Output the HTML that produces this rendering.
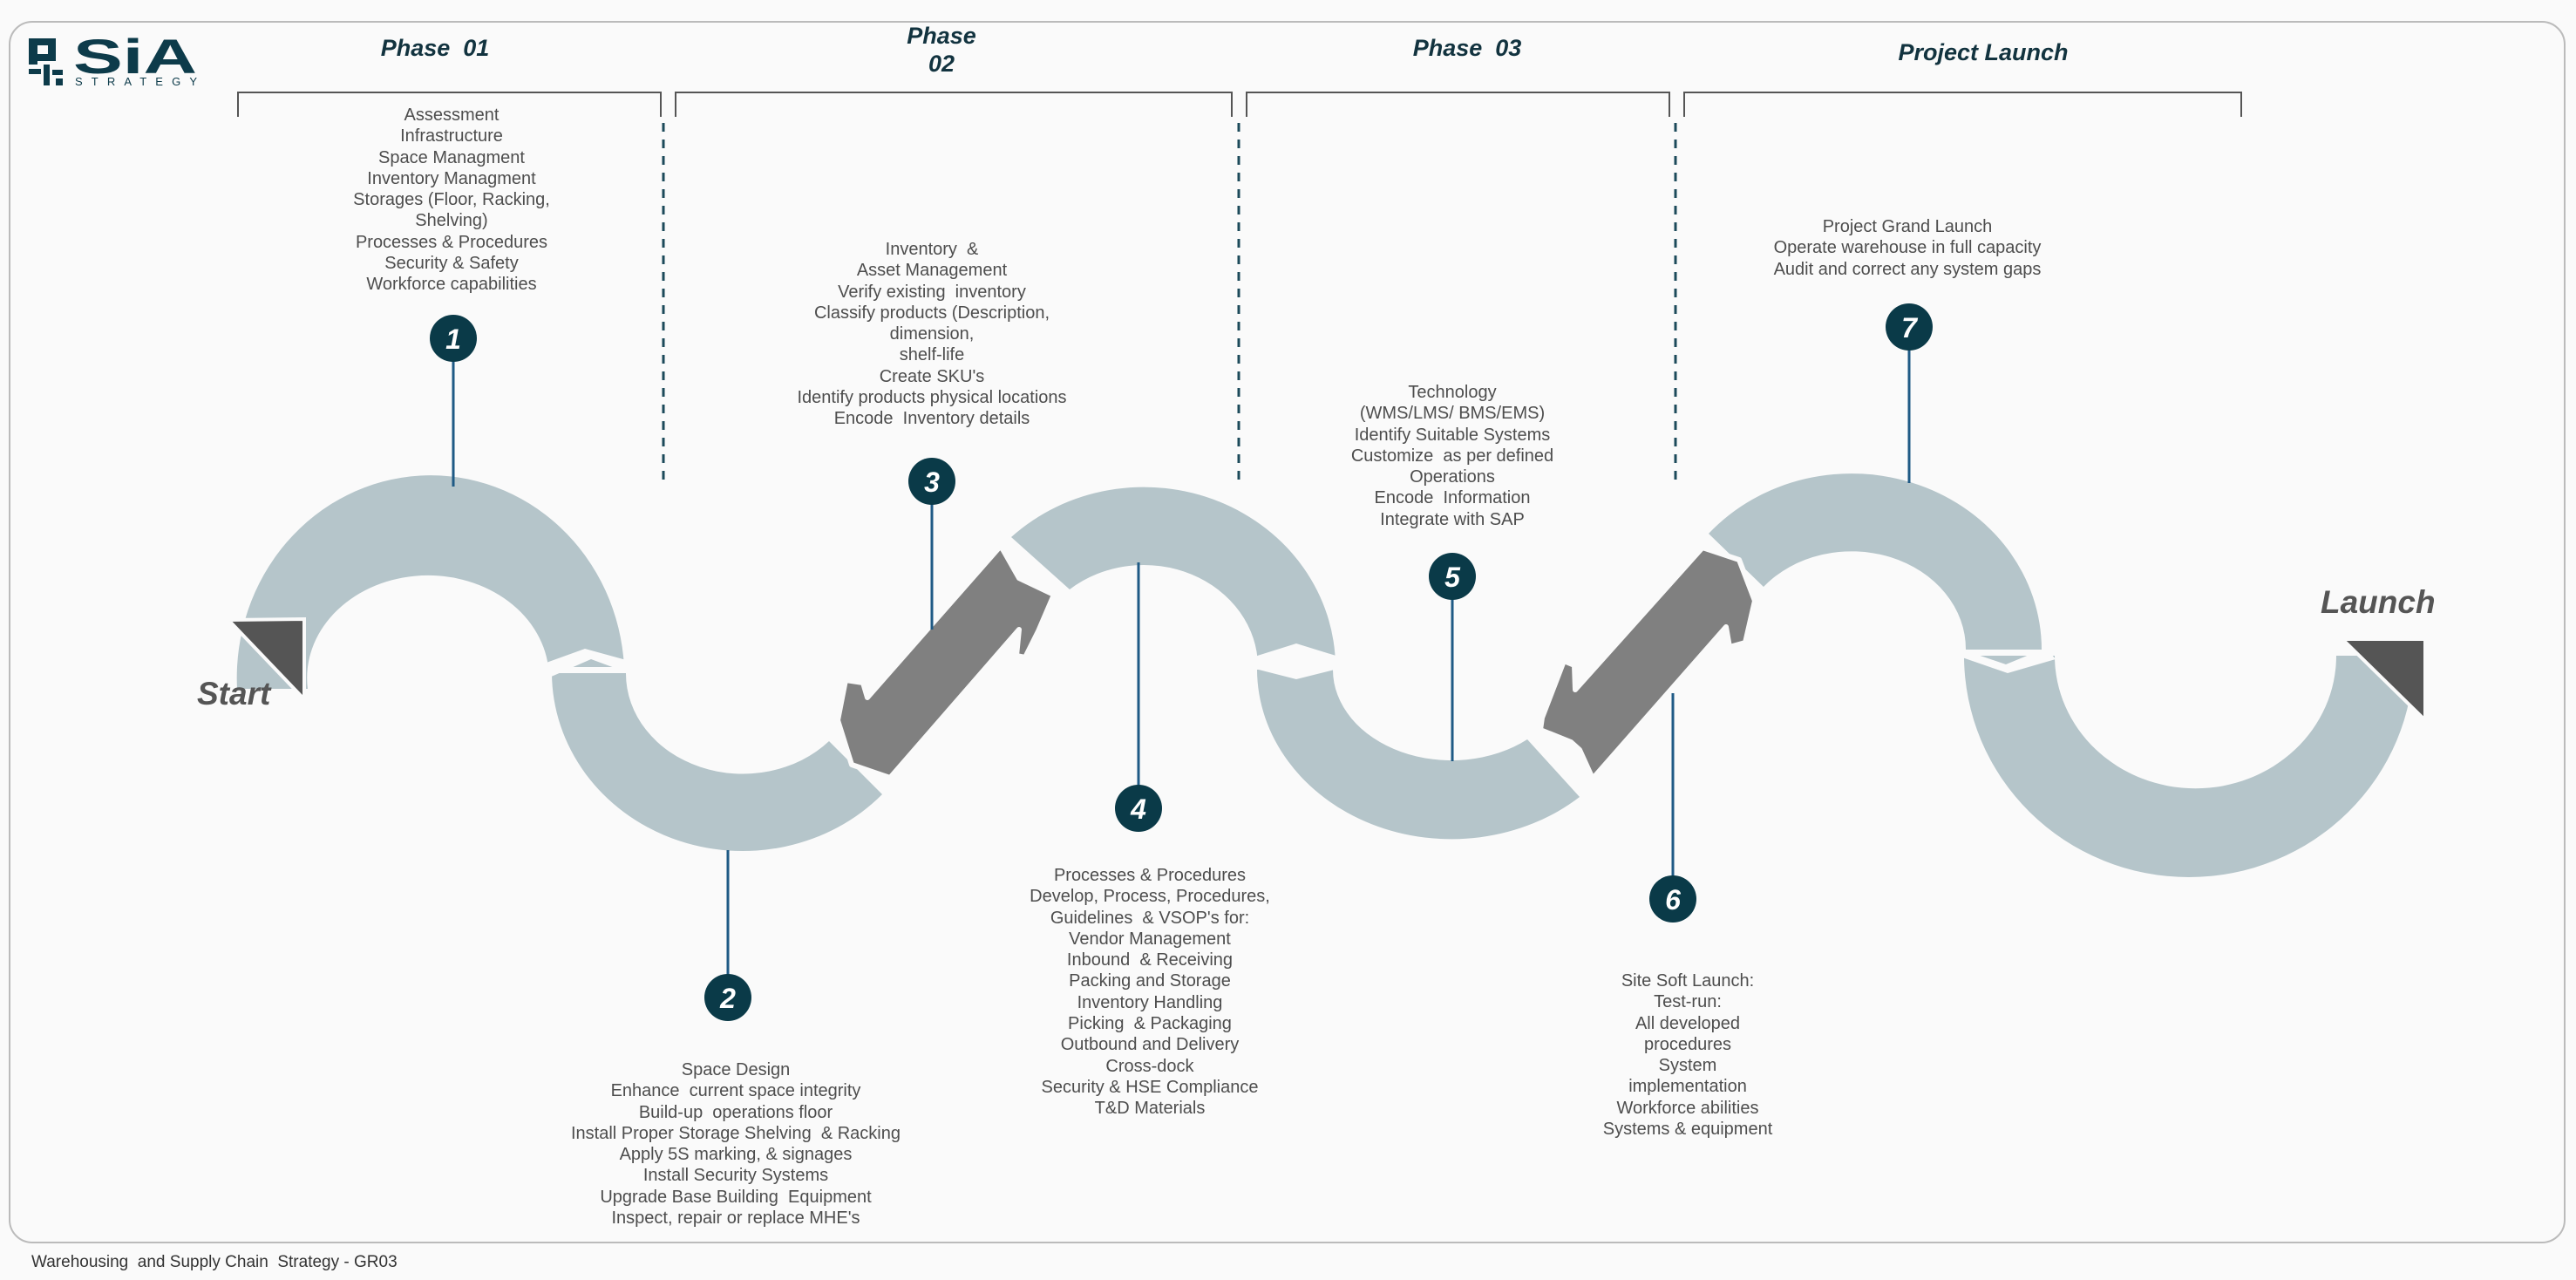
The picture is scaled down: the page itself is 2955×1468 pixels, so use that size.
<!DOCTYPE html>
<html><head><meta charset="utf-8"><style>
html,body{margin:0;padding:0;background:#fafafa;}
body{width:2955px;height:1468px;position:relative;overflow:hidden;font-family:"Liberation Sans",Arial,sans-serif;}
.t{position:absolute;width:640px;text-align:center;font-size:20px;line-height:24.3px;color:#4d4d4d;white-space:nowrap;}
.ph{position:absolute;width:400px;text-align:center;font-size:27px;font-weight:bold;font-style:italic;color:#12333f;line-height:32px;}
.lbl{position:absolute;font-size:37px;font-weight:bold;font-style:italic;color:#555;}
</style></head><body>
<svg width="2955" height="1468" style="position:absolute;left:0;top:0">
<rect x="11" y="25" width="2931" height="1400" rx="26" fill="#fafafa" stroke="#bbb" stroke-width="2"/>
<!-- logo -->
<g fill="#0d3b4a">
<rect x="33" y="44" width="10" height="30"/><rect x="33" y="44" width="30" height="8"/><rect x="55" y="44" width="9" height="26"/><rect x="43" y="62" width="21" height="8"/>
<rect x="33" y="79" width="14" height="6"/><rect x="50" y="74" width="7" height="24"/><rect x="60" y="80" width="12" height="6"/><rect x="64" y="90" width="8" height="8"/>
</g>
<text x="84" y="84" font-family="Liberation Sans" font-weight="bold" font-size="56" fill="#0d3b4a" textLength="142" lengthAdjust="spacingAndGlyphs">SiA</text>
<text x="86" y="98" font-family="Liberation Sans" font-size="13" fill="#0d3b4a" textLength="140" lengthAdjust="spacing">STRATEGY</text>
<!-- brackets -->
<g fill="none" stroke="#555" stroke-width="2">
<polyline points="273,134 273,106 758,106 758,134"/>
<polyline points="775,134 775,106 1413,106 1413,134"/>
<polyline points="1430,134 1430,106 1915,106 1915,134"/>
<polyline points="1932,134 1932,106 2571,106 2571,134"/>
</g>
<g stroke="#1c4a5a" stroke-width="3" stroke-dasharray="10,9">
<line x1="761" y1="141" x2="761" y2="556"/>
<line x1="1421" y1="141" x2="1421" y2="556"/>
<line x1="1922" y1="141" x2="1922" y2="556"/>
</g>
<!-- bands -->
<g fill="#b5c5ca">
<path d="M272,790 A222 232 0 0 1 716,765 L629,765 A138 117 0 0 0 353,790 Z"/>
<path d="M633,772 A219 205 0 0 0 1012,911 L951,850 A134 115 0 0 1 718,772 Z"/>
<path d="M1160,616 A220 207 0 0 1 1532,765 L1443,765 A131 117 0 0 0 1227,676 Z"/>
<path d="M1442,768 A223 195 0 0 0 1812,914 L1752,848 A136 104 0 0 1 1529,768 Z"/>
<path d="M1960,612 A218 202 0 0 1 2342,745 L2255,745 A131 112 0 0 0 2023,673 Z"/>
<path d="M2253,752 A258 254 0 0 0 2769,752 L2680,752 A157 148 0 0 1 2357,752 Z"/>
</g>
<!-- joint gaps -->
<g fill="#fafafa">
<polygon points="624,761 671,744 722,758 724,773 678,756 630,777"/>
<polygon points="1436,754 1487,738 1539,754 1539,766 1487,779 1436,766"/>
<polygon points="2251,745 2301,762 2347,743 2358,756 2303,772 2248,753"/>
</g>
<!-- diagonal arrows -->
<g fill="#808080" stroke="#fafafa" stroke-width="6" stroke-linejoin="round">
<polygon points="1148,626 1169,663 1209,682 1191,724 1176,754 1166,752 1169,722 1021,892 977,877 961,826 970,780 990,783 995,800"/>
<polygon points="1953,628 1995,642 2013,689 2002,737 1984,742 1980,719 1827,893 1812,860 1802,851 1767,837 1769,823 1794,758 1806,763 1807,791"/>
</g>
<!-- start / launch triangles -->
<polygon points="262,711 349,710 349,802" fill="#555" stroke="#fafafa" stroke-width="4"/>
<polygon points="2687,733 2782,733 2782,826" fill="#555" stroke="#fafafa" stroke-width="4"/>
<!-- connector lines -->
<g stroke="#1f5a85" stroke-width="3">
<line x1="520" y1="388" x2="520" y2="558"/>
<line x1="835" y1="975" x2="835" y2="1144"/>
<line x1="1069" y1="552" x2="1069" y2="722"/>
<line x1="1306" y1="645" x2="1306" y2="927"/>
<line x1="1666" y1="661" x2="1666" y2="873"/>
<line x1="1919" y1="795" x2="1919" y2="1031"/>
<line x1="2190" y1="375" x2="2190" y2="554"/>
</g>
<g fill="#0a3a48">
<circle cx="520" cy="388" r="27"/><circle cx="835" cy="1144" r="27"/><circle cx="1069" cy="552" r="27"/>
<circle cx="1306" cy="927" r="27"/><circle cx="1666" cy="661" r="27"/><circle cx="1919" cy="1031" r="27"/><circle cx="2190" cy="375" r="27"/>
</g>
<g fill="#fff" font-family="Liberation Sans" font-weight="bold" font-style="italic" font-size="32" text-anchor="middle">
<text x="520" y="400">1</text><text x="835" y="1156">2</text><text x="1069" y="564">3</text>
<text x="1306" y="939">4</text><text x="1666" y="673">5</text><text x="1919" y="1043">6</text><text x="2190" y="387">7</text>
</g>
</svg>

<div class="ph" style="left:299px;top:39px">Phase&nbsp; 01</div>
<div class="ph" style="left:880px;top:25px">Phase<br>02</div>
<div class="ph" style="left:1483px;top:39px">Phase&nbsp; 03</div>
<div class="ph" style="left:2075px;top:44px">Project Launch</div>

<div class="lbl" style="left:226px;top:775px">Start</div>
<div class="lbl" style="left:2662px;top:670px">Launch</div>

<div class="t" style="left:198px;top:120px">Assessment<br>Infrastructure<br>Space Managment<br>Inventory Managment<br>Storages (Floor, Racking,<br>Shelving)<br>Processes &amp; Procedures<br>Security &amp; Safety<br>Workforce capabilities</div>
<div class="t" style="left:524px;top:1215px">Space Design<br>Enhance&nbsp; current space integrity<br>Build-up&nbsp; operations floor<br>Install Proper Storage Shelving&nbsp; &amp; Racking<br>Apply 5S marking, &amp; signages<br>Install Security Systems<br>Upgrade Base Building&nbsp; Equipment<br>Inspect, repair or replace MHE's</div>
<div class="t" style="left:749px;top:274px">Inventory&nbsp; &amp;<br>Asset Management<br>Verify existing&nbsp; inventory<br>Classify products (Description,<br>dimension,<br>shelf-life<br>Create SKU's<br>Identify products physical locations<br>Encode&nbsp; Inventory details</div>
<div class="t" style="left:999px;top:992px">Processes &amp; Procedures<br>Develop, Process, Procedures,<br>Guidelines&nbsp; &amp; VSOP's for:<br>Vendor Management<br>Inbound&nbsp; &amp; Receiving<br>Packing and Storage<br>Inventory Handling<br>Picking&nbsp; &amp; Packaging<br>Outbound and Delivery<br>Cross-dock<br>Security &amp; HSE Compliance<br>T&amp;D Materials</div>
<div class="t" style="left:1346px;top:438px">Technology<br>(WMS/LMS/ BMS/EMS)<br>Identify Suitable Systems<br>Customize&nbsp; as per defined<br>Operations<br>Encode&nbsp; Information<br>Integrate with SAP</div>
<div class="t" style="left:1616px;top:1113px">Site Soft Launch:<br>Test-run:<br>All developed<br>procedures<br>System<br>implementation<br>Workforce abilities<br>Systems &amp; equipment</div>
<div class="t" style="left:1868px;top:248px">Project Grand Launch<br>Operate warehouse in full capacity<br>Audit and correct any system gaps</div>

<div style="position:absolute;left:36px;top:1437px;font-size:19px;color:#333;white-space:nowrap">Warehousing&nbsp; and Supply Chain&nbsp; Strategy - GR03</div>
</body></html>
